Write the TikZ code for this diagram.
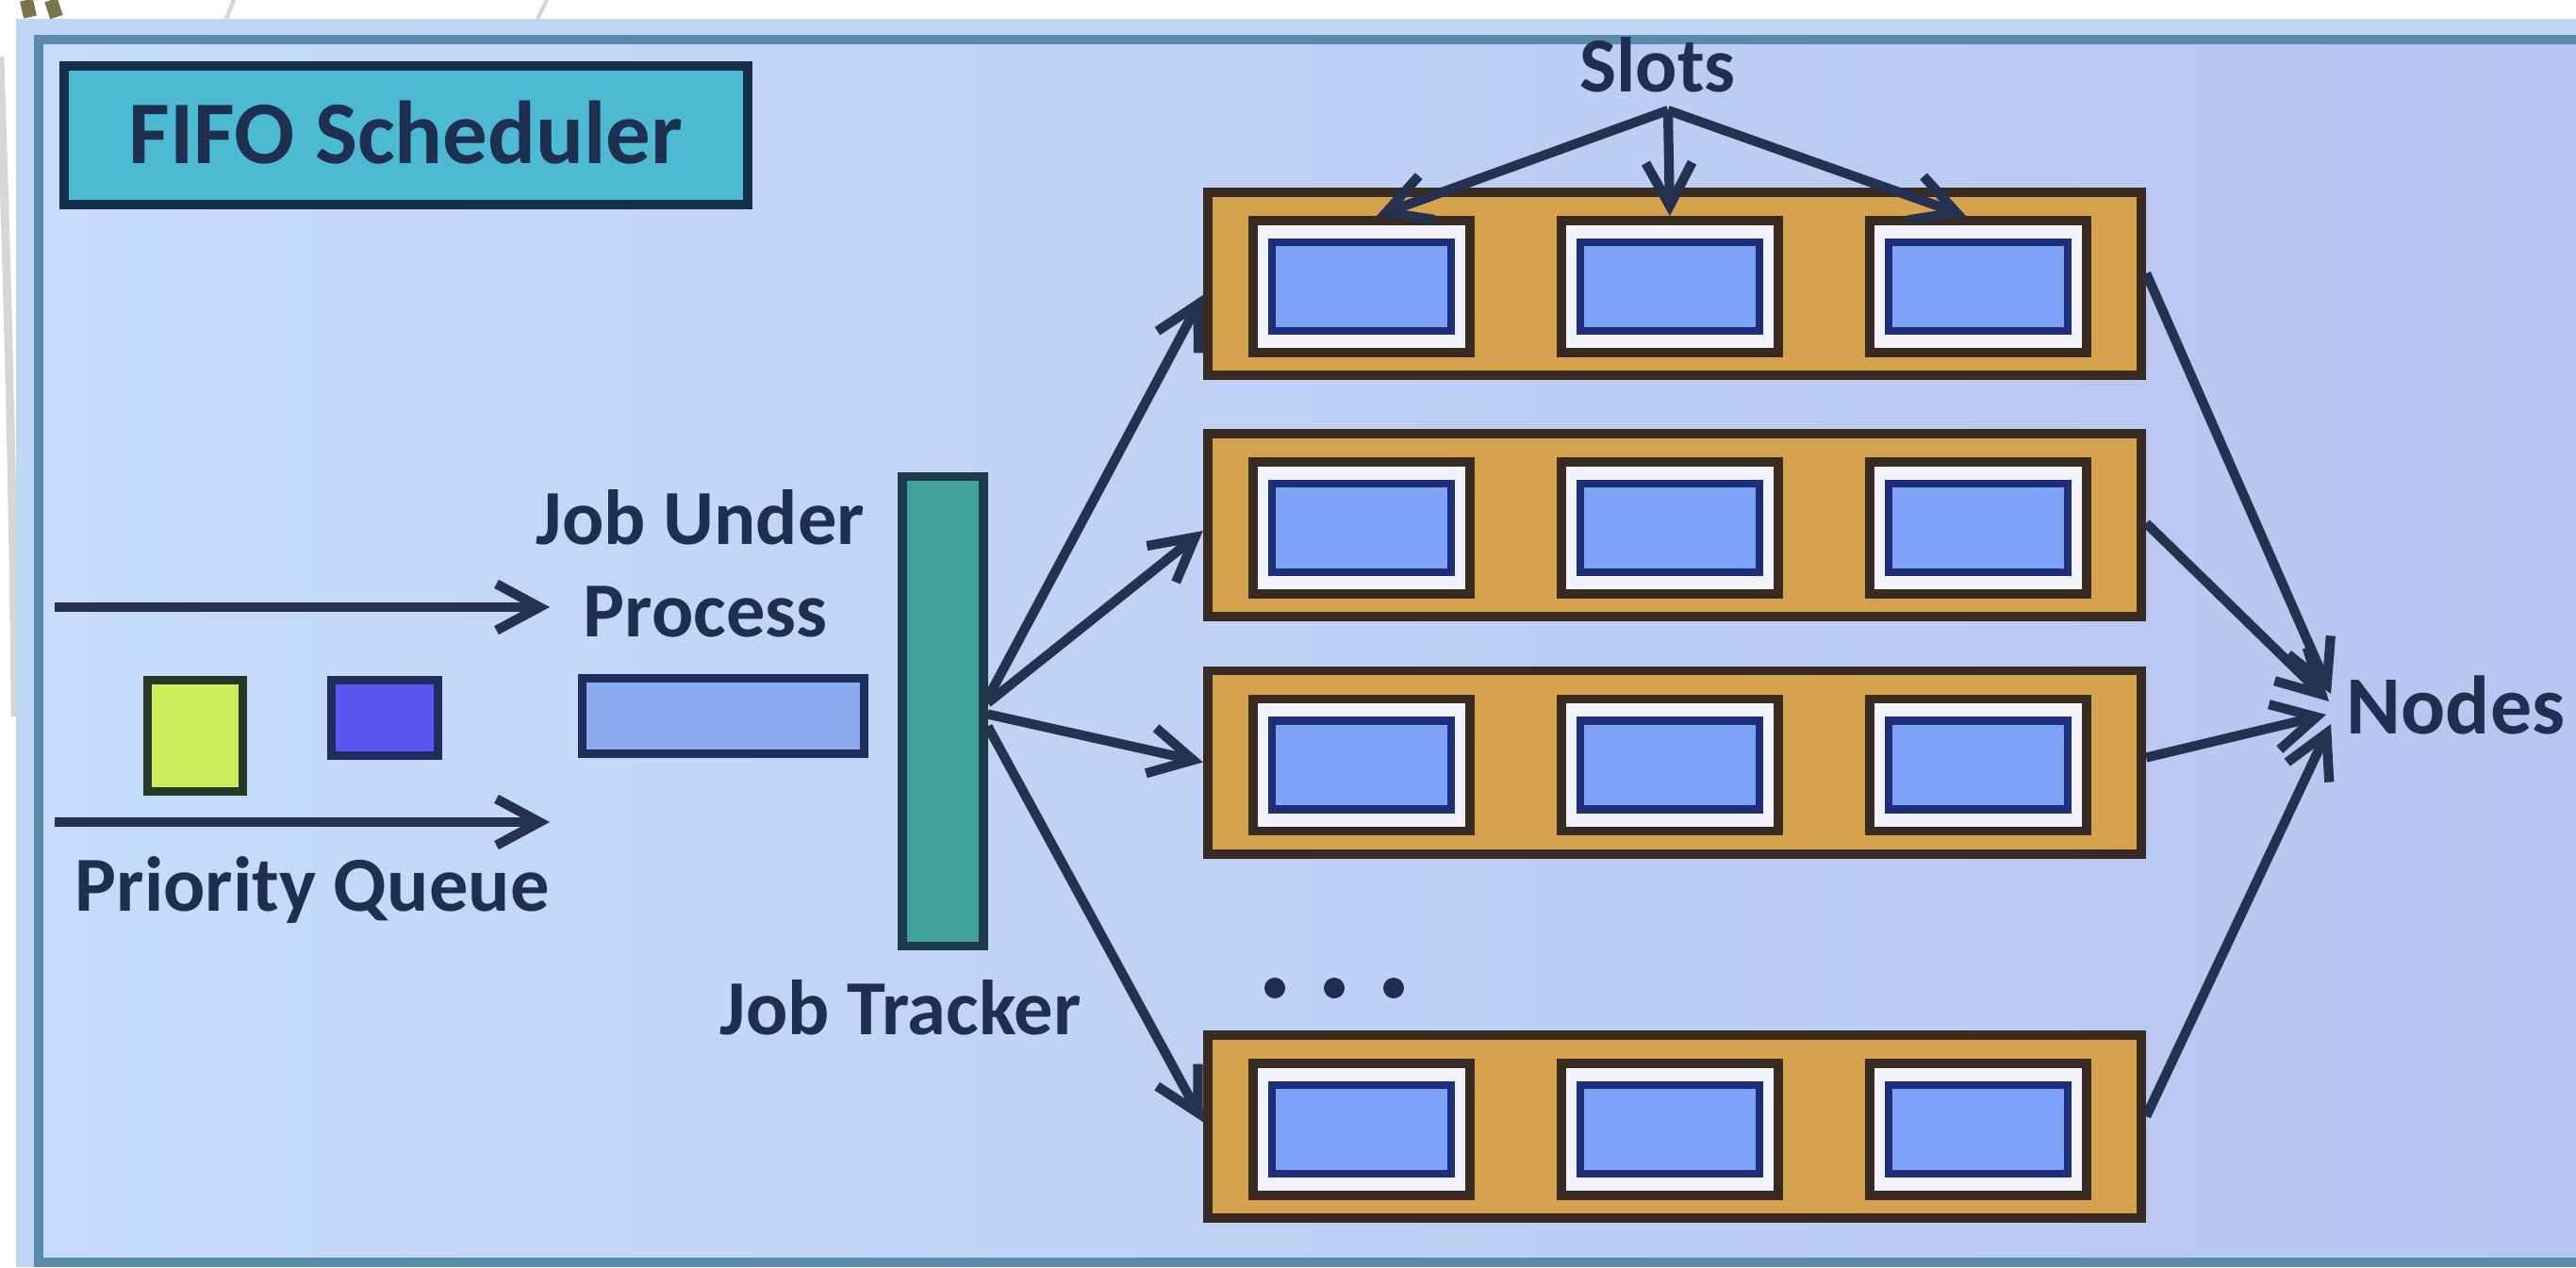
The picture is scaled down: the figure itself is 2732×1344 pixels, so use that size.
\documentclass[tikz,border=0pt]{standalone}
\usepackage{fontspec}
\setmainfont{Carlito}
\usetikzlibrary{arrows.meta,calc}
\definecolor{bgL}{HTML}{C6DCFA}
\definecolor{bgR}{HTML}{B7C5F0}
\definecolor{edgeblue}{HTML}{BDD7F4}
\definecolor{framec}{HTML}{5A8BAA}
\definecolor{orangec}{HTML}{D5A24D}
\definecolor{rowborder}{HTML}{392B22}
\definecolor{slotwhite}{HTML}{F2F3FA}
\definecolor{slotblue}{HTML}{7DA2F7}
\definecolor{slotborder}{HTML}{1E2E78}
\definecolor{jtfill}{HTML}{42A39D}
\definecolor{jtborder}{HTML}{1D3A48}
\definecolor{jupfill}{HTML}{8CAAF2}
\definecolor{jupborder}{HTML}{1E2F5E}
\definecolor{greenc}{HTML}{CCEE5A}
\definecolor{greenborder}{HTML}{263826}
\definecolor{bluesq}{HTML}{5A56F0}
\definecolor{fifofill}{HTML}{4DBAD4}
\definecolor{fifoborder}{HTML}{133048}
\definecolor{textc}{HTML}{1F2F50}
\definecolor{arrowc}{HTML}{24324F}
\definecolor{olive}{HTML}{7A7448}
\definecolor{artgray}{HTML}{D6D6D6}
\begin{document}
\begin{tikzpicture}[x=0.01cm,y=-0.01cm,
  lbl/.style={text=textc, font=\fontsize{23.5}{28}\selectfont\bfseries, inner sep=0pt},
  rowbox/.style={draw=rowborder, fill=orangec, line width=2.8pt, minimum width=9.90cm, minimum height=1.94cm, inner sep=0pt},
  slotout/.style={draw=rowborder, fill=slotwhite, line width=2.8pt, minimum width=2.30cm, minimum height=1.40cm, inner sep=0pt},
  slotin/.style={draw=slotborder, fill=slotblue, line width=2.4pt, minimum width=1.90cm, minimum height=0.94cm, inner sep=0pt},
  arr/.style={draw=arrowc, line width=2.9pt, -{Straight Barb[length=13pt,width=14pt]}},
  dotn/.style={circle, fill=textc, minimum size=0.22cm, inner sep=0pt},
  sq/.style={line width=2.4pt, inner sep=0pt}
]
\useasboundingbox (0,0) rectangle (2732,1344);
\fill[white] (0,0) rectangle (2732,1344);
% photo margin artefacts
\draw[olive, line width=4pt] (28,0) -- (32,18);
\draw[olive, line width=4pt] (54,0) -- (60,18);
\draw[artgray, line width=1.2pt] (248,0) -- (240,20);
\draw[artgray, line width=1.2pt] (580,0) -- (570,20);
\draw[artgray, line width=2.5pt] (0,60) .. controls (6,250) and (14,500) .. (16,760);
% slide background and frame
\fill[edgeblue] (17,20) rectangle (2732,1344);
\shade[left color=bgL, right color=bgR] (41,42) rectangle (2732,1339);
\draw[framec, line width=2.6pt] (41,42) rectangle (2800,1339);

% title box
\node[draw=fifoborder, fill=fifofill, line width=2.9pt, minimum width=7.25cm, minimum height=1.47cm, inner sep=0pt] (fifo) at (430.5,143.5) {};
\node[lbl, font=\fontsize{27}{31}\selectfont\bfseries, anchor=base west] (fifot) at (136,173) {FIFO Scheduler};

% priority queue
\node[sq, draw=greenborder, fill=greenc, minimum width=1.01cm, minimum height=1.18cm] (gsq) at (207,780.5) {};
\node[sq, draw=jupborder, fill=bluesq, minimum width=1.13cm, minimum height=0.80cm] (bsq) at (408,761.5) {};
\coordinate (pa1s) at (58,644); \coordinate (pa1e) at (583,644);
\coordinate (pa2s) at (58,872); \coordinate (pa2e) at (583,872);
\draw[arr] (pa1s) -- (pa1e);
\draw[arr] (pa2s) -- (pa2e);
\node[lbl, anchor=base west] (pq) at (79,966) {Priority Queue};

% job under process
\node[sq, draw=jupborder, fill=jupfill, minimum width=2.99cm, minimum height=0.80cm] (jup) at (767,759.5) {};
\node[lbl, anchor=base west] (jut1) at (568,577) {Job Under};
\node[lbl, anchor=base west] (jut2) at (618,675) {Process};

% job tracker
\node[draw=jtborder, fill=jtfill, line width=2.6pt, minimum width=0.86cm, minimum height=4.97cm, inner sep=0pt] (jt) at (1000,754.5) {};
\node[lbl, anchor=base west] (jtl) at (763,1097) {Job Tracker};

% rows of slots
\foreach \r/\yy in {1/301,2/557,3/808.5,4/1195}{
  \node[rowbox] (r\r) at (1776,\yy) {};
  \foreach \s/\xx in {1/1444,2/1771,3/2098}{
    \node[slotout] (s\r\s) at (\xx,\yy+3) {};
    \node[slotin] (b\r\s) at (\xx,\yy+3) {};
  }
}
\node[dotn] (d1) at (1352,1048) {};
\node[dotn] (d2) at (1415,1048) {};
\node[dotn] (d3) at (1478,1048) {};

% slots label and arrows
\node[lbl, anchor=base] (slots) at (1758,97) {Slots};
\coordinate (so) at (1769,117);
\draw[arr] (so) -- ($(s11.north)+(16,0)$);
\draw[arr] (so) -- (s12.north);
\draw[arr] (so) -- ($(s13.north)+(-13,0)$);

% job tracker to rows
\draw[arr] ($(jt.east)+(0,-14)$) -- ($(r1.west)+(0,12)$);
\draw[arr] ($(jt.east)+(0,-9)$) -- ($(r2.west)+(0,6)$);
\draw[arr] ($(jt.east)+(0,3)$) -- (r3.west);
\draw[arr] ($(jt.east)+(0,16)$) -- ($(r4.west)+(0,-5)$);

% rows to nodes
\node[lbl, font=\fontsize{25}{30}\selectfont\bfseries, anchor=base west] (nodes) at (2488,778) {Nodes};
\coordinate (nd) at (2470,748);
\draw[arr] ($(r1.east)+(0,-11)$) -- ($(nd)+(2,-12)$);
\draw[arr] ($(r2.east)+(0,-2)$) -- ($(nd)+(0,-4)$);
\draw[arr] ($(r3.east)+(0,-5)$) -- ($(nd)+(-3,10)$);
\draw[arr] ($(r4.east)+(0,-11)$) -- ($(nd)+(2,20)$);
\end{tikzpicture}
\end{document}
